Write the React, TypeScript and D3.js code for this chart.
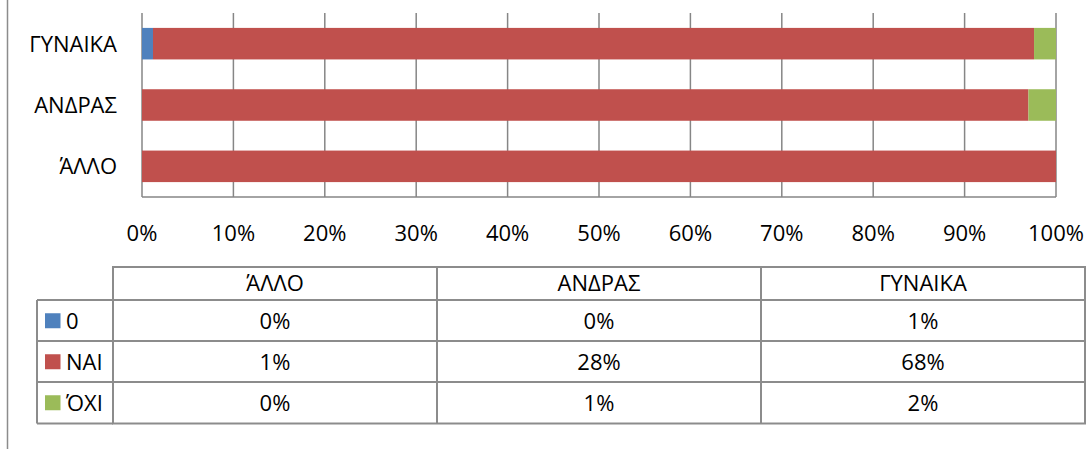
import React from "react";
import * as d3 from "d3";

const categories = ["ΆΛΛΟ", "ΑΝΔΡΑΣ", "ΓΥΝΑΙΚΑ"];
const seriesNames = ["0", "ΝΑΙ", "ΌΧΙ"];
const seriesColors = ["#4F81BD", "#C0504D", "#9BBB59"];
// values in percent of total respondents (per category column)
const values0 = [0, 0, 0.85];
const valuesNai = [1, 28, 68.2];
const valuesOxi = [0, 0.87, 1.7];
const xTicks = [0, 0.1, 0.2, 0.3, 0.4, 0.5, 0.6, 0.7, 0.8, 0.9, 1];

const W = 1091;
const H = 449;
const FONT = "'Open Sans', 'Noto Sans', sans-serif";
const FS = 22;

export default function App() {
  const seriesValues = [values0, valuesNai, valuesOxi];
  const rows = categories.map((c, i) => {
    const r: any = { cat: c };
    seriesNames.forEach((s, j) => (r[s] = seriesValues[j][i]));
    return r;
  });
  const stacked = d3.stack().keys(seriesNames).offset(d3.stackOffsetExpand)(rows);

  const x = d3.scaleLinear().domain([0, 1]).range([142, 1056]);
  const y = d3
    .scaleBand()
    .domain([...categories].reverse())
    .range([13, 197])
    .paddingInner(0.486)
    .paddingOuter(0.243);

  const col = d3.scaleBand().domain(categories).range([113, 1085]);
  const rowTops = [300, 341, 382];
  const rowH = 41.5;
  const headTop = 267;
  const tableBottom = rowTops[2] + rowH;
  const gridColor = "#868686";
  const tblColor = "#8c8c8c";
  const fmt = d3.format(".0f");
  const capOff = FS * 0.36;

  return (
    <svg
      width={W}
      height={H}
      style={{ position: "absolute", left: 0, top: 0, background: "#fff" }}
      fontFamily={FONT}
      fontSize={FS}
    >
      <rect x={0} y={0} width={W} height={H} fill="#fff" />
      <line x1={7.5} x2={7.5} y1={0} y2={H} stroke="#8c8c8c" strokeWidth={1.5} />

      {/* gridlines */}
      {xTicks.map((t) => (
        <line
          key={"g" + t}
          x1={x(t)}
          x2={x(t)}
          y1={13}
          y2={197}
          stroke={gridColor}
          strokeWidth={1.5}
        />
      ))}
      <line x1={x(0)} x2={x(1)} y1={197} y2={197} stroke={gridColor} strokeWidth={1.5} />

      {/* bars */}
      {stacked.map((s, j) => (
        <g key={s.key} fill={seriesColors[j]}>
          {s.map((d: any, i: number) => {
            const w = x(d[1]) - x(d[0]);
            if (w <= 0) return null;
            return (
              <rect
                key={i}
                x={x(d[0])}
                y={y(d.data.cat)}
                width={w}
                height={y.bandwidth()}
              />
            );
          })}
        </g>
      ))}

      {/* category labels */}
      {categories.map((c) => (
        <text
          key={"c" + c}
          x={117}
          y={(y(c) as number) + y.bandwidth() / 2 + capOff}
          textAnchor="end"
          fill="#000"
        >
          {c}
        </text>
      ))}

      {/* tick labels */}
      {xTicks.map((t) => (
        <text key={"t" + t} x={x(t)} y={241} textAnchor="middle" fill="#000">
          {d3.format(".0%")(t)}
        </text>
      ))}

      {/* table */}
      <g stroke={tblColor} strokeWidth={2} fill="none">
        <rect x={113} y={headTop} width={1085 - 113} height={tableBottom - headTop} />
        <line x1={37} x2={113} y1={rowTops[0]} y2={rowTops[0]} />
        <line x1={37} x2={37} y1={rowTops[0]} y2={tableBottom} />
        <line x1={37} x2={113} y1={tableBottom} y2={tableBottom} />
        {rowTops.map((rt) => (
          <line key={"rl" + rt} x1={37} x2={1085} y1={rt} y2={rt} />
        ))}
        {categories.slice(1).map((c) => (
          <line key={"cl" + c} x1={col(c)} x2={col(c)} y1={headTop} y2={tableBottom} />
        ))}
      </g>
      {categories.map((c) => (
        <text
          key={"h" + c}
          x={(col(c) as number) + col.bandwidth() / 2}
          y={(headTop + rowTops[0]) / 2 + capOff}
          textAnchor="middle"
          fill="#000"
        >
          {c}
        </text>
      ))}
      {seriesNames.map((s, j) => (
        <g key={"r" + s}>
          <rect
            x={45}
            y={rowTops[j] + rowH / 2 - 7.5}
            width={15.5}
            height={15}
            fill={seriesColors[j]}
          />
          <text x={66} y={rowTops[j] + rowH / 2 + capOff} fill="#000">
            {s}
          </text>
          {categories.map((c, i) => (
            <text
              key={c}
              x={(col(c) as number) + col.bandwidth() / 2}
              y={rowTops[j] + rowH / 2 + capOff}
              textAnchor="middle"
              fill="#000"
            >
              {fmt(seriesValues[j][i]) + "%"}
            </text>
          ))}
        </g>
      ))}
    </svg>
  );
}
